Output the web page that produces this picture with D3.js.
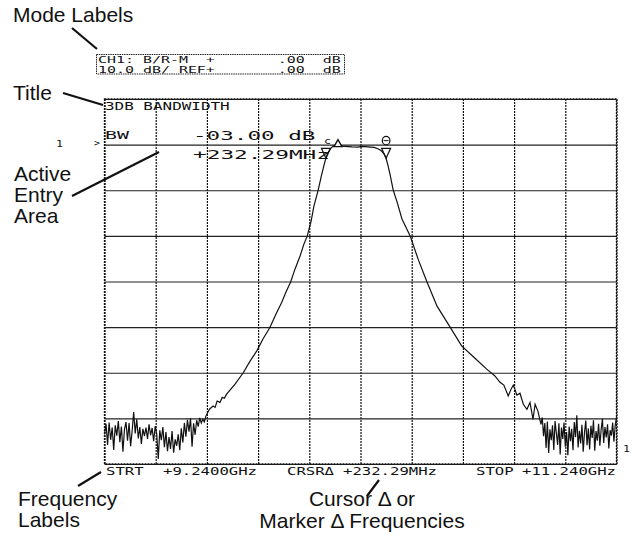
<!DOCTYPE html>
<html><head><meta charset="utf-8">
<script src="https://cdn.jsdelivr.net/npm/d3@7"></script>
<style>
html,body{margin:0;padding:0;background:#fff;}
svg{display:block;}
</style></head><body>
<svg id="c" width="632" height="542"></svg>
<script>
// ---- data ----
const startGHz = 9.24, stopGHz = 11.24;
const freqGrid = [9.24,9.44,9.64,9.84,10.04,10.24,10.44,10.64,10.84,11.04,11.24];
const dbGrid = [10,0,-10,-20,-30,-40,-50,-60,-70];
const leftNoise = [[9.240,-63.5],[9.246,-61.2],[9.252,-65.8],[9.258,-60.9],[9.264,-64.7],[9.270,-62.0],[9.276,-66.9],[9.282,-61.5],[9.288,-63.8],[9.294,-60.6],[9.300,-65.2],[9.306,-61.8],[9.312,-67.3],[9.318,-62.4],[9.324,-60.8],[9.330,-64.9],[9.336,-61.0],[9.342,-66.1],[9.348,-62.7],[9.354,-58.6],[9.360,-63.3],[9.366,-60.2],[9.372,-64.4],[9.378,-61.9],[9.384,-65.6],[9.390,-62.3],[9.396,-63.9],[9.402,-62.0],[9.408,-64.5],[9.414,-61.3],[9.420,-63.7],[9.426,-62.1],[9.432,-65.0],[9.438,-61.7],[9.444,-63.4],[9.450,-68.9],[9.456,-62.6],[9.462,-64.8],[9.468,-61.9],[9.474,-66.3],[9.480,-63.0],[9.486,-67.2],[9.492,-64.1],[9.498,-66.7],[9.504,-62.8],[9.510,-67.5],[9.516,-64.6],[9.522,-66.0],[9.528,-63.5],[9.534,-67.0],[9.540,-62.2],[9.546,-65.3],[9.552,-61.0],[9.558,-64.0],[9.564,-60.3],[9.570,-62.9],[9.576,-60.0],[9.582,-66.2],[9.588,-61.1],[9.594,-63.6],[9.600,-60.4],[9.606,-61.8],[9.612,-59.9],[9.618,-61.0],[9.624,-60.2],[9.630,-60.8]];
const leftSkirt = [[9.636,-59.5],[9.650,-58.0],[9.664,-57.3],[9.672,-57.6],[9.680,-56.2],[9.691,-56.5],[9.700,-55.4],[9.708,-55.6],[9.717,-54.7],[9.750,-52.5],[9.782,-50.0],[9.808,-47.5],[9.835,-45.2],[9.859,-42.6],[9.886,-40.1],[9.910,-37.1],[9.932,-34.6],[9.949,-32.3],[9.967,-30.1],[9.984,-27.3],[10.004,-24.4],[10.019,-21.8],[10.032,-20.0],[10.047,-16.8],[10.058,-13.5],[10.075,-9.9],[10.086,-7.1],[10.097,-4.6],[10.105,-2.9],[10.114,-1.7],[10.125,-0.75],[10.134,-0.25]];
const passband = [[10.152,-0.3],[10.179,-0.4],[10.207,-0.5],[10.230,-0.55],[10.246,-0.4],[10.269,-0.5],[10.293,-0.6],[10.308,-0.9],[10.320,-1.3],[10.332,-2.0],[10.340,-3.0]];
const rightSkirt = [[10.347,-4.5],[10.355,-6.4],[10.368,-10.0],[10.383,-12.6],[10.402,-16.3],[10.434,-20.0],[10.465,-25.1],[10.499,-30.0],[10.539,-35.4],[10.590,-40.0],[10.635,-44.1],[10.683,-46.6],[10.733,-49.2],[10.765,-50.7],[10.785,-52.1],[10.800,-52.7],[10.817,-55.1],[10.828,-53.6],[10.837,-52.7],[10.851,-54.9],[10.863,-54.5],[10.876,-56.9],[10.890,-58.0],[10.902,-56.5],[10.914,-60.2],[10.922,-56.9],[10.933,-58.4],[10.945,-61.3]];
const rightNoise = [[10.950,-59.8],[10.955,-63.9],[10.960,-61.0],[10.965,-66.5],[10.970,-60.7],[10.975,-67.6],[10.980,-62.4],[10.985,-64.8],[10.990,-61.5],[10.995,-66.9],[11.000,-60.6],[11.005,-63.2],[11.010,-65.8],[11.015,-61.1],[11.020,-67.9],[11.025,-62.0],[11.030,-64.5],[11.035,-60.9],[11.040,-66.2],[11.045,-63.0],[11.050,-68.1],[11.055,-61.8],[11.060,-65.0],[11.065,-62.3],[11.070,-67.0],[11.075,-60.8],[11.080,-64.1],[11.085,-59.3],[11.090,-66.4],[11.095,-62.7],[11.100,-65.5],[11.105,-61.4],[11.110,-67.3],[11.115,-63.1],[11.120,-60.5],[11.125,-65.9],[11.130,-62.2],[11.135,-66.8],[11.140,-61.6],[11.145,-64.3],[11.150,-60.4],[11.155,-67.1],[11.160,-62.8],[11.165,-64.9],[11.170,-61.2],[11.175,-66.0],[11.180,-62.5],[11.185,-60.1],[11.190,-65.4],[11.195,-61.9],[11.200,-64.2],[11.205,-61.3],[11.210,-66.6],[11.215,-62.6],[11.220,-63.8],[11.225,-60.9],[11.230,-65.1],[11.235,-61.5],[11.240,-59.8]];
const bwMarkers = [[10.105,-3],[10.340,-3]];   // ▽ -3 dB points
const cursorMarker = [10.152,0];               // ▲ cursor
const modeLine1 = "CH1: B/R-M  +       .00  dB";
const modeLine2 = "10.0 dB/ REF+       .00  dB";
const titleText = "3DB BANDWIDTH";
const activeLabel = "BW", activeValue = "-03.00 dB", activeFreq = "+232.29MHz";
const freqLabels = [["STRT",106],["+9.2400GHz",163],["CRSR\u0394",287],["+232.29MHz",343],["STOP",476],["+11.240GHz",522]];

// ---- layout ----
const svg = d3.select("#c");
const L=104.5, R=616.5, T=99, B=464;
const x = d3.scaleLinear().domain([startGHz, stopGHz]).range([L, R]);
const y = d3.scaleLinear().domain([10, -70]).range([T, B]);
const mono = "'DejaVu Sans Mono', 'Liberation Mono', monospace";
const sans = "'Liberation Sans', Arial, Helvetica, sans-serif";

// grid
svg.append("g").attr("class","gx").attr("transform",`translate(0,${B})`)
  .call(d3.axisBottom(x).tickValues(freqGrid).tickSize(-(B-T)).tickFormat(""));
svg.append("g").attr("class","gy").attr("transform",`translate(${L},0)`)
  .call(d3.axisLeft(y).tickValues(dbGrid).tickSize(-(R-L)).tickFormat(""));
svg.selectAll(".domain").remove();
svg.selectAll(".gx .tick line").attr("stroke","#111").attr("stroke-width",1.2).attr("stroke-dasharray","2,1");
svg.selectAll(".gy .tick line").attr("stroke","#222").attr("stroke-width",1.2);

// trace
const all = leftNoise.concat(leftSkirt, passband, rightSkirt, rightNoise);
svg.append("path").datum(all)
  .attr("d", d3.line().x(d=>x(d[0])).y(d=>y(d[1])))
  .attr("fill","none").attr("stroke","#111").attr("stroke-width",1.2);

// scaled monospace display text (HP display font look)
function dtext(t,x0,y0,fs,cell){
  const sx = cell/(fs*0.602);
  return svg.append("text").attr("transform",`translate(${x0},${y0}) scale(${sx},1)`)
    .attr("x",0).attr("y",0).attr("xml:space","preserve").style("white-space","pre")
    .text(t).attr("font-family",mono).attr("font-size",fs).attr("fill","#111");
}

// markers ▽
bwMarkers.forEach(m=>{
  const cx=x(m[0]), cy=y(m[1]);
  svg.append("path").attr("d",`M${cx-4.5},${cy-10}L${cx+4.5},${cy-10}L${cx},${cy}Z`)
    .attr("fill","none").attr("stroke","#111").attr("stroke-width",1.2);
});
// ▲ cursor + "c" labels
{
  const cx=x(cursorMarker[0]), cy=y(cursorMarker[1]);
  svg.append("path").attr("d",`M${cx-4},${cy+2}L${cx+4},${cy+2}L${cx},${cy-5}Z`)
    .attr("fill","#fff").attr("stroke","#111").attr("stroke-width",1.4);
  dtext("c",cx-14,cy-1,9,7);
  const rx = x(bwMarkers[1][0]);
  svg.append("ellipse").attr("cx",rx).attr("cy",cy-4).attr("rx",3.8).attr("ry",4.2)
    .attr("fill","#fff").attr("stroke","#111").attr("stroke-width",1.2);
  svg.append("line").attr("x1",rx-2.5).attr("x2",rx+2.5).attr("y1",cy-4).attr("y2",cy-4).attr("stroke","#111");
}

// mode label box
svg.append("rect").attr("x",96.5).attr("y",54.5).attr("width",248).attr("height",19.5)
  .attr("fill","none").attr("stroke","#222").attr("stroke-dasharray","1.5,0.8");
dtext(modeLine1,98,63.3,8.8,9);
dtext(modeLine2,98,72.8,8.8,9);

dtext(titleText,105,110,10,9.6);
dtext(activeLabel,105,138.5,11,12);
dtext(activeValue,193,140,12.5,13.6);
dtext(activeFreq,193,158.5,12,13.7);
freqLabels.forEach(d=>dtext(d[0],d[1],475,10,9.4));

// trace-number labels
dtext("1",56,147,8,7);
dtext(">",94,146,8,6);
dtext("1",623,452,8,7);

// annotation labels
function stext(t,xx,yy,anchor){
  return svg.append("text").attr("x",xx).attr("y",yy).text(t).attr("font-family",sans)
    .attr("font-size",21).attr("fill","#111").attr("text-anchor",anchor||"start");
}
stext("Mode Labels",13,21.5);
stext("Title",13,99.5);
stext("Active",14,181); stext("Entry",14,202); stext("Area",14,223);
stext("Frequency",18,506); stext("Labels",18,527);
stext("Cursor \u0394 or",362,506,"middle"); stext("Marker \u0394 Frequencies",362,528,"middle");

// leader lines
const leaders = [[72,28,97,49],[63,93,103,105],[72,196,159,152],[78,486,101,472],[367,496,379,480]];
leaders.forEach(l=>svg.append("line").attr("x1",l[0]).attr("y1",l[1]).attr("x2",l[2]).attr("y2",l[3])
  .attr("stroke","#111").attr("stroke-width",2.2));

// plot border
svg.append("rect").attr("x",L).attr("y",T).attr("width",R-L).attr("height",B-T)
  .attr("fill","none").attr("stroke","#111").attr("stroke-width",1.3).attr("stroke-dasharray","2,1");
</script>
</body></html>
